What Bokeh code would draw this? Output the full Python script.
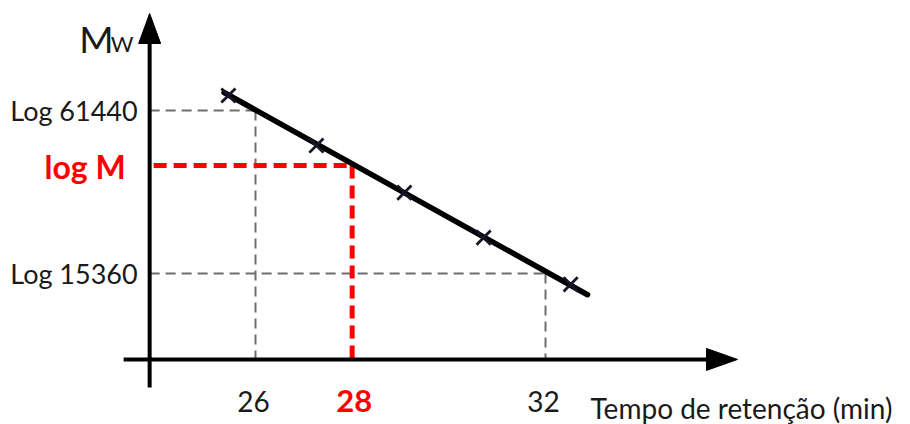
import math
from bokeh.plotting import figure
from bokeh.models import Range1d
from bokeh.core.properties import value
from bokeh.embed import file_html
from bokeh.resources import INLINE

# ---------------- data ----------------
ret_time = [25.44, 27.26, 29.08, 30.72, 32.52]          # retention time (min) of calibration points
log_mw = [4.844, 4.659, 4.485, 4.319, 4.146]            # log Mw of calibration points
fit_time = [25.35, 32.87]                                 # ends of the calibration line
fit_log_mw = [4.855, 4.108]
log_m_sample = 4.585                                      # read-off value for the sample
t_sample = 28
y_tick_values = [math.log10(61440), log_m_sample, math.log10(15360)]
y_tick_labels = ["Log 61440", "log M", "Log 15360"]
x_tick_values = [26, 28, 32]
x_tick_labels = ["26", "28", "32"]
axis_time = 23.81      # where the vertical axis stands
axis_log = 3.869       # where the horizontal axis stands

# ---------------- layout ----------------
W, H = 910, 424
px_per_min = 290 / 6.0
px_per_unit = 163 / (math.log10(61440) - math.log10(15360))
x0 = 26 - 255 / px_per_min
y1 = math.log10(61440) + 110 / px_per_unit

p = figure(width=W, height=H, output_backend="svg", toolbar_location=None,
           x_range=Range1d(x0, x0 + W / px_per_min),
           y_range=Range1d(y1 - H / px_per_unit, y1),
           min_border=0, outline_line_color=None)
p.axis.visible = False
p.grid.visible = False
p.background_fill_color = "white"
p.border_fill_color = "white"

FONT = value("Lato")
INK = "#1a1a1a"
dx = 1 / px_per_min   # one pixel in minutes
dy = 1 / px_per_unit  # one pixel in log units

# gray dashed guides
g61, m_s, g15 = y_tick_values
p.segment(x0=[axis_time, 26, axis_time, 32], y0=[g61, g61, g15, g15],
          x1=[26, 26, 32, 32], y1=[g61, axis_log, g15, axis_log],
          line_color="#6e6e6e", line_width=2, line_dash="10 6")

# red dashed guides
p.segment(x0=[axis_time + 4 * dx, t_sample], y0=[m_s, m_s],
          x1=[t_sample, t_sample], y1=[m_s, axis_log],
          line_color="#ff0000", line_width=5, line_dash="13 7")

# axes with arrows
p.segment(x0=[axis_time, axis_time - 26 * dx], y0=[axis_log - 28 * dy, axis_log],
          x1=[axis_time, x0 + 710 * dx], y1=[y1 - 40 * dy, axis_log],
          line_color="black", line_width=4)
p.patch(x=[axis_time - 11 * dx, axis_time, axis_time + 11 * dx],
        y=[y1 - 43 * dy, y1 - 13 * dy, y1 - 43 * dy], color="black")
p.patch(x=[x0 + 706 * dx, x0 + 737 * dx, x0 + 706 * dx],
        y=[axis_log + 11 * dy, axis_log, axis_log - 11 * dy], color="black")

# calibration line and points
p.line(fit_time, fit_log_mw, line_color="black", line_width=5.5, line_cap="round")
p.scatter(ret_time, log_mw, marker="x", size=20, line_width=2.8, line_color="#15152a")

# y labels
p.text(x=[axis_time, axis_time], y=[g61, g15], text=[y_tick_labels[0], y_tick_labels[2]],
       x_offset=-12, text_align="right", text_baseline="middle",
       text_font=FONT, text_font_size="27px", text_color=INK)
p.text(x=[axis_time], y=[m_s], text=[y_tick_labels[1]],
       x_offset=-24, y_offset=1, text_align="right", text_baseline="middle",
       text_font=FONT, text_font_size="32px", text_font_style="bold", text_color="#ff0000")

# x labels
p.text(x=[26, 32], y=[axis_log, axis_log], text=[x_tick_labels[0], x_tick_labels[2]],
       x_offset=-2, y_offset=42, text_align="center", text_baseline="middle",
       text_font=FONT, text_font_size="28px", text_color=INK)
p.text(x=[t_sample], y=[axis_log], text=[x_tick_labels[1]],
       x_offset=2, y_offset=42, text_align="center", text_baseline="middle",
       text_font=FONT, text_font_size="31px", text_font_style="bold", text_color="#ff0000")

# axis titles
p.text(x=[axis_time], y=[y1], text=["M"], x_offset=-36, y_offset=38,
       text_align="right", text_baseline="alphabetic",
       text_font=FONT, text_font_size="37px", text_color=INK)
p.text(x=[axis_time], y=[y1], text=["W"], x_offset=-16, y_offset=43,
       text_align="right", text_baseline="alphabetic",
       text_font=FONT, text_font_size="22px", text_color=INK)
p.text(x=[32], y=[axis_log], text=["Tempo de retenção (min)"], x_offset=45, y_offset=49,
       text_align="left", text_baseline="alphabetic",
       text_font=FONT, text_font_size="28px", text_color=INK)

open("out.html", "w").write(file_html(p, INLINE))
